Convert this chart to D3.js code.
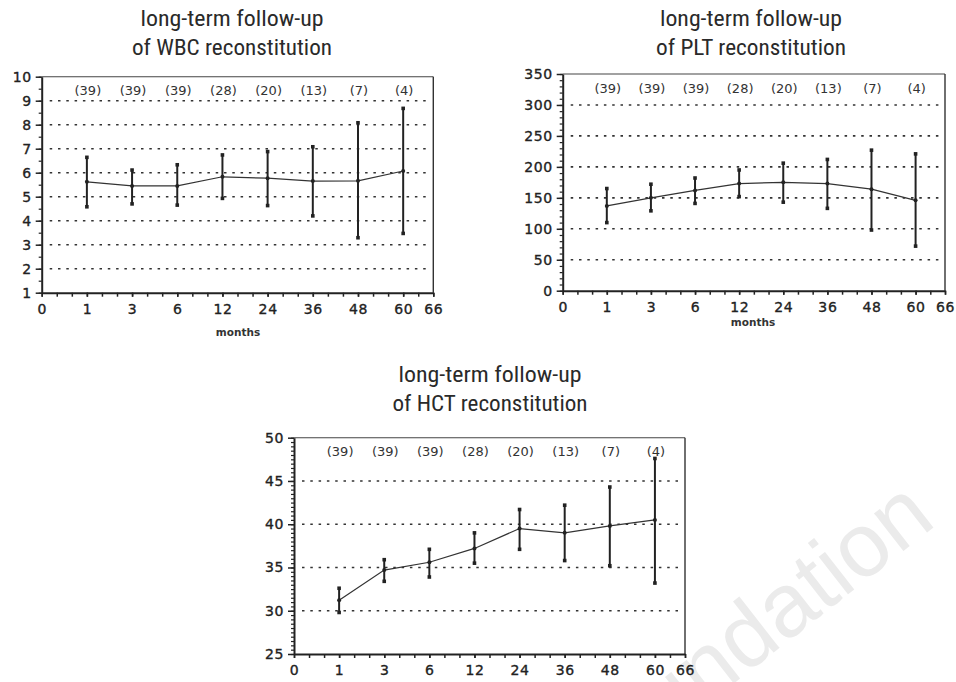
<!DOCTYPE html>
<html>
<head>
<meta charset="utf-8">
<script src="https://cdn.jsdelivr.net/npm/d3@7"></script>
<style>
  body { margin: 0; background: #fff; }
  svg { display: block; }
</style>
</head>
<body>
<svg id="chart" width="956" height="682"></svg>
<script>
// months after transplant and number of patients at each point
const months = [1, 3, 6, 12, 24, 36, 48, 60];
const xTickLabels = [0, 1, 3, 6, 12, 24, 36, 48, 60, 66];
const patientCounts = [39, 39, 39, 28, 20, 13, 7, 4];

// WBC
const wbcTicks = [1, 2, 3, 4, 5, 6, 7, 8, 9, 10];
const wbcMean = [5.62, 5.45, 5.45, 5.83, 5.77, 5.65, 5.66, 6.07];
const wbcUpper = [6.64, 6.11, 6.33, 6.74, 6.88, 7.08, 8.08, 8.68];
const wbcLower = [4.58, 4.70, 4.65, 4.93, 4.63, 4.20, 3.29, 3.47];

// PLT
const pltTicks = [0, 50, 100, 150, 200, 250, 300, 350];
const pltMean = [137, 150, 162, 173, 175, 173, 164, 146];
const pltUpper = [165, 172, 182, 195, 206, 212, 227, 221];
const pltLower = [110, 129, 141, 152, 143, 133, 98, 72];

// HCT
const hctTicks = [25, 30, 35, 40, 45, 50];
const hctMean = [31.2, 34.7, 35.6, 37.2, 39.5, 39.0, 39.8, 40.5];
const hctUpper = [32.6, 35.9, 37.1, 39.0, 41.7, 42.2, 44.3, 47.6];
const hctLower = [29.8, 33.4, 33.9, 35.5, 37.1, 35.8, 35.2, 33.2];

const svg = d3.select("#chart");
const ink = "#222";
const tickFont = "'DejaVu Sans', Verdana, sans-serif";
const titleFont = "'Roboto Condensed', 'Liberation Sans Narrow', 'DejaVu Sans Condensed', Roboto, sans-serif";

// watermark (behind everything), cut by the page edge as in the source
svg.append("text")
  .attr("transform", "translate(938,524) rotate(-38)")
  .attr("text-anchor", "end")
  .attr("font-family", "'Liberation Sans', Arial, sans-serif")
  .attr("font-size", 90)
  .attr("fill", "#ebebeb")
  .text("Foundation");

function drawPanel(p) {
  const g = svg.append("g");
  const n = xTickLabels.length;
  // last interval (60-66) is only 2/3 of a slot
  const lastIdx = n - 1 - 1 / 3;
  const slot = (p.right - p.left) / lastIdx;
  const x = d3.scaleLinear()
    .domain(xTickLabels)
    .range(xTickLabels.map((d, i) => p.left + (i === n - 1 ? lastIdx : i) * slot));
  const xi = d3.scaleLinear().domain([0, lastIdx]).range([p.left, p.right]);
  const y = d3.scaleLinear()
    .domain(d3.extent(p.yTicks))
    .range([p.bottom, p.top]);

  // titre sur deux lignes
  p.titleLines.forEach((t, i) => {
    g.append("text")
      .attr("x", p.titleX)
      .attr("y", p.titleY + i * 28.5)
      .attr("text-anchor", "middle")
      .attr("font-family", titleFont)
      .attr("font-size", 22)
      .attr("fill", "#2a2a2a")
      .attr("textLength", p.titleWidths[i])
      .attr("lengthAdjust", "spacingAndGlyphs")
      .text(t);
  });

  // dotted grid
  g.selectAll("line.grid")
    .data(p.yTicks.slice(1, -1))
    .join("line")
    .attr("class", "grid")
    .attr("x1", p.left + 8)
    .attr("x2", p.right - 3)
    .attr("y1", d => y(d))
    .attr("y2", d => y(d))
    .attr("stroke", "#333")
    .attr("stroke-width", 1.6)
    .attr("stroke-dasharray", "2.5,5.8");

  // frame top + right
  g.append("line")
    .attr("x1", p.left).attr("x2", p.right)
    .attr("y1", p.top).attr("y2", p.top)
    .attr("stroke", "#444").attr("stroke-width", 1.1);
  g.append("line")
    .attr("x1", p.right).attr("x2", p.right)
    .attr("y1", p.top).attr("y2", p.bottom)
    .attr("stroke", "#333").attr("stroke-width", 1.4);

  // minor ticks
  const minorY = d3.range(p.yTicks[0], p.yTicks[p.yTicks.length - 1] + 1e-9, p.minorStep);
  g.append("g")
    .attr("transform", `translate(${p.left},0)`)
    .call(d3.axisLeft(y).tickValues(minorY).tickSize(3).tickFormat(""))
    .call(a => a.select(".domain").remove())
    .call(a => a.selectAll("line").attr("stroke", ink).attr("stroke-width", 1.2));
  g.append("g")
    .attr("transform", `translate(0,${p.bottom})`)
    .call(d3.axisBottom(xi).tickValues(d3.range(0, lastIdx + 0.01, 1 / 3)).tickSize(4).tickFormat(""))
    .call(a => a.select(".domain").remove())
    .call(a => a.selectAll("line").attr("stroke", ink).attr("stroke-width", 1.5));

  // main axes
  const yAxis = g.append("g")
    .attr("transform", `translate(${p.left},0)`)
    .call(d3.axisLeft(y).tickValues(p.yTicks).tickSize(6).tickSizeOuter(0).tickPadding(4));
  const xAxis = g.append("g")
    .attr("transform", `translate(0,${p.bottom})`)
    .call(d3.axisBottom(x).tickValues(xTickLabels).tickSize(4).tickSizeOuter(0).tickPadding(7));
  [yAxis, xAxis].forEach(a => {
    a.select(".domain").attr("stroke", ink).attr("stroke-width", 2);
    a.selectAll("line").attr("stroke", ink).attr("stroke-width", 1.5);
    a.selectAll("text")
      .attr("font-family", tickFont)
      .attr("font-size", 14)
      .attr("letter-spacing", 0.6)
      .attr("fill", ink)
      .attr("stroke", ink)
      .attr("stroke-width", 0.35);
  });

  if (p.showMonths) {
    g.append("text")
      .attr("x", p.monthsX)
      .attr("y", p.monthsY)
      .attr("text-anchor", "middle")
      .attr("font-family", tickFont)
      .attr("font-size", 10.5)
      .attr("font-weight", "bold")
      .attr("fill", "#333")
      .text("months");
  }

  // patient numbers
  g.selectAll("text.count")
    .data(patientCounts)
    .join("text")
    .attr("class", "count")
    .attr("x", (d, i) => x(months[i]) + 1)
    .attr("y", p.countY)
    .attr("dy", "0.35em")
    .attr("text-anchor", "middle")
    .attr("font-family", tickFont)
    .attr("font-size", 13)
    .attr("fill", "#333")
    .text(d => `(${d})`);

  // mean line
  const line = d3.line()
    .x((d, i) => x(months[i]))
    .y(d => y(d));
  g.append("path")
    .datum(p.mean)
    .attr("fill", "none")
    .attr("stroke", "#333")
    .attr("stroke-width", 1.2)
    .attr("d", line);

  // error bars
  g.selectAll("line.err")
    .data(months)
    .join("line")
    .attr("class", "err")
    .attr("x1", d => x(d)).attr("x2", d => x(d))
    .attr("y1", (d, i) => y(p.upper[i]))
    .attr("y2", (d, i) => y(p.lower[i]))
    .attr("stroke", ink)
    .attr("stroke-width", 2);

  const ends = months.flatMap((m, i) => [[m, p.upper[i]], [m, p.lower[i]]]);
  g.selectAll("rect.end")
    .data(ends)
    .join("rect")
    .attr("class", "end")
    .attr("x", d => x(d[0]) - 1.8)
    .attr("y", d => y(d[1]) - 1.8)
    .attr("width", 3.6)
    .attr("height", 3.6)
    .attr("fill", ink);

  g.selectAll("circle.mean")
    .data(p.mean)
    .join("circle")
    .attr("class", "mean")
    .attr("cx", (d, i) => x(months[i]))
    .attr("cy", d => y(d))
    .attr("r", 2)
    .attr("fill", ink);
}

drawPanel({
  titleLines: ["long-term follow-up", "of WBC reconstitution"],
  titleWidths: [183, 200],
  titleX: 232, titleY: 26,
  yTicks: wbcTicks, minorStep: 0.5,
  mean: wbcMean, upper: wbcUpper, lower: wbcLower,
  left: 41.7, right: 433.3, top: 76.7, bottom: 292.7,
  countY: 90.7,
  showMonths: true, monthsX: 238, monthsY: 336
});

drawPanel({
  titleLines: ["long-term follow-up", "of PLT reconstitution"],
  titleWidths: [182, 190],
  titleX: 751, titleY: 26,
  yTicks: pltTicks, minorStep: 10,
  mean: pltMean, upper: pltUpper, lower: pltLower,
  left: 562.7, right: 945, top: 74, bottom: 290.7,
  countY: 88.3,
  showMonths: true, monthsX: 753, monthsY: 326
});

drawPanel({
  titleLines: ["long-term follow-up", "of HCT reconstitution"],
  titleWidths: [183, 195],
  titleX: 490, titleY: 382,
  yTicks: hctTicks, minorStep: 0.5,
  mean: hctMean, upper: hctUpper, lower: hctLower,
  left: 294, right: 685, top: 437.7, bottom: 654,
  countY: 451.7,
  showMonths: false
});
</script>
</body>
</html>
